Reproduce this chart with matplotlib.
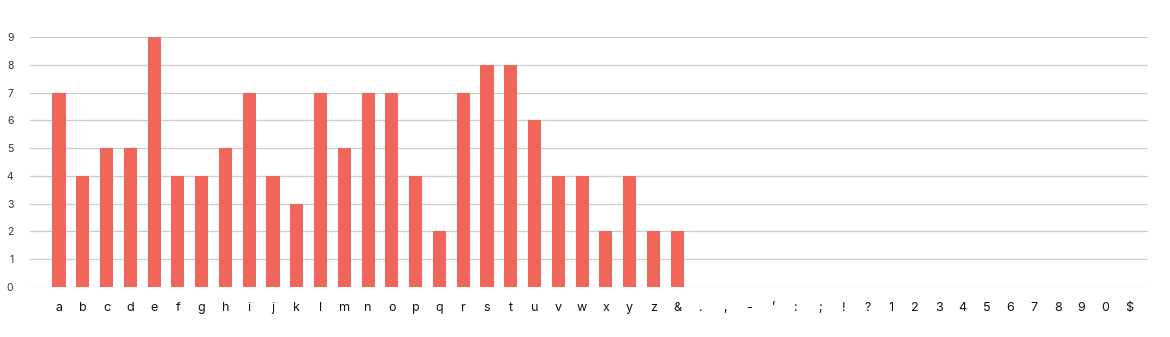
import matplotlib.pyplot as plt

letters = list("abcdefghijklmnopqrstuvwxyz")
symbols = ["&", ".", ",", "-", "\u2019", ":", ";", "!", "?"]
digits = ["1", "2", "3", "4", "5", "6", "7", "8", "9", "0", "$"]
categories = letters + symbols + digits

letter_counts = [7, 4, 5, 5, 9, 4, 4, 5, 7, 4, 3, 7, 5, 7, 7, 4, 2, 7, 8, 8, 6, 4, 4, 2, 4, 2]
symbol_counts = [2, 0, 0, 0, 0, 0, 0, 0, 0]
digit_counts = [0] * len(digits)
counts = letter_counts + symbol_counts + digit_counts

plt.rcParams['font.family'] = ['Inter', 'DejaVu Sans']

fig = plt.figure(figsize=(11.7, 3.37), dpi=100)
ax = fig.add_axes([30 / 1170, 50 / 337, 1118 / 1170, 250 / 337])

x = range(len(categories))
ax.bar(x, counts, width=0.55, color="#F0665A", zorder=3)

ax.set_xlim(-1.22, 45.8)
ax.set_ylim(0, 9)
ax.set_yticks(range(10))
ax.set_xticks(list(x))
ax.set_xticklabels(categories)

ax.grid(axis="y", color="#cccccc", linewidth=0.9, zorder=0)
for s in ax.spines.values():
    s.set_visible(False)
ax.tick_params(axis="y", length=0, pad=12, labelsize=7.5, labelcolor="#333344")
ax.tick_params(axis="x", length=0, pad=11, labelsize=9, labelcolor="#111111")

fig.savefig("out.png", dpi=100)
